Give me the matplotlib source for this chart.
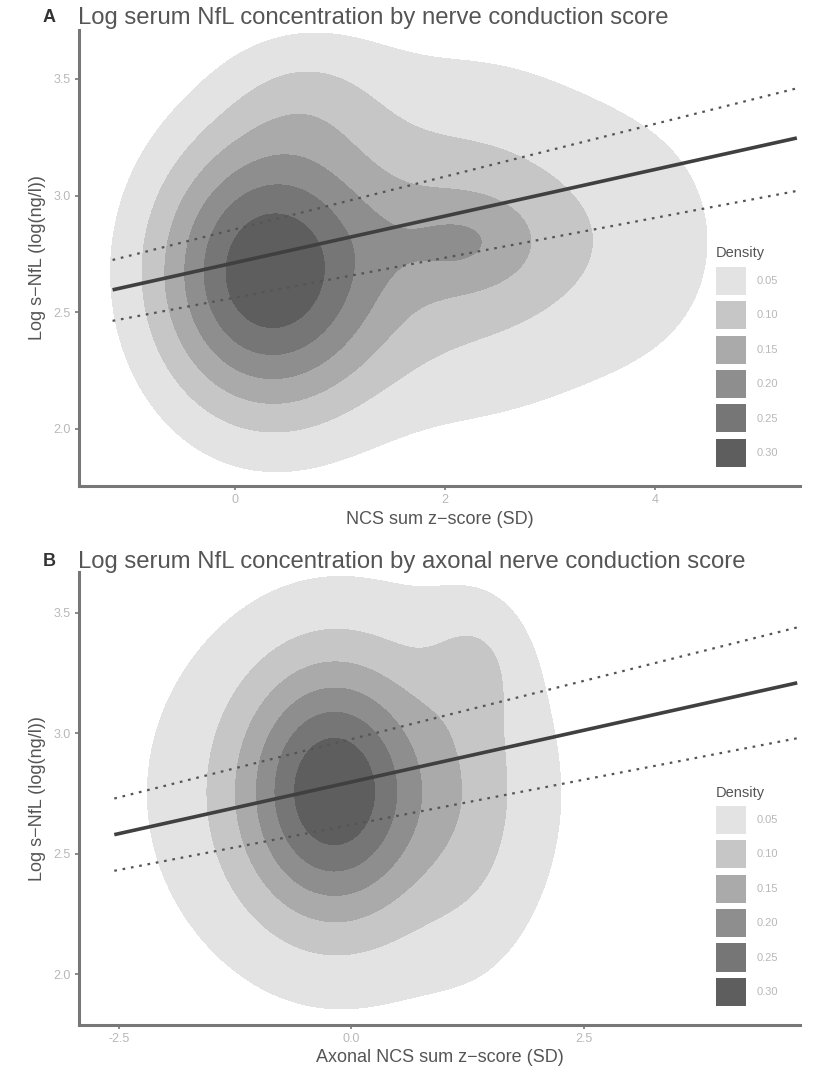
import numpy as np
import matplotlib
matplotlib.use("Agg")
import matplotlib.pyplot as plt
from matplotlib.patches import Patch

plt.rcParams['font.family'] = ['Liberation Sans', 'DejaVu Sans']

# ---------------- data ----------------
density_levels = [0.05, 0.10, 0.15, 0.20, 0.25, 0.30]
density_labels = ["0.05", "0.10", "0.15", "0.20", "0.25", "0.30"]
fill_colors = ["#e3e3e3", "#c6c6c6", "#aaaaaa", "#8e8e8e", "#767676", "#5e5e5e"]

# Panel A density components (centre x, centre y, sd x, sd y, peak)
a_cx = [0.29, 2.20, 2.20, 0.70, 4.00]
a_cy = [2.67, 2.80, 2.82, 3.45, 2.80]
a_sx = [0.76, 0.50, 1.00, 0.55, 0.80]
a_sy = [0.43, 0.15, 0.55, 0.20, 0.50]
a_pk = [0.33, 0.07, 0.12, 0.048, 0.05]

# Panel A regression fit and 95% CI (x ends)
a_fit_x = [-1.17, 5.35]
a_fit = [2.596, 3.247]
a_upper = [2.724, 3.46]
a_lower = [2.463, 3.02]

# Panel B density components
b_cx = [-0.20, 0.00, 1.35, 1.30]
b_cy = [2.76, 2.75, 3.30, 2.75]
b_sx = [0.65, 1.70, 0.35, 0.45]
b_sy = [0.35, 0.64, 0.18, 0.45]
b_pk = [0.24, 0.11, 0.04, 0.04]

b_fit_x = [-2.55, 4.80]
b_fit = [2.58, 3.21]
b_upper = [2.73, 3.44]
b_lower = [2.43, 2.98]

a_xticks = [0, 2, 4]
a_xticklabels = ["0", "2", "4"]
b_xticks = [-2.5, 0.0, 2.5]
b_xticklabels = ["-2.5", "0.0", "2.5"]
yticks = [2.0, 2.5, 3.0, 3.5]
yticklabels = ["2.0", "2.5", "3.0", "3.5"]


def density(X, Y, cx, cy, sx, sy, pk):
    Z = np.zeros_like(X)
    for i in range(len(cx)):
        Z += pk[i] * np.exp(-0.5 * ((X - cx[i]) / sx[i]) ** 2 - 0.5 * ((Y - cy[i]) / sy[i]) ** 2)
    return Z


W, H = 817, 1070
fig = plt.figure(figsize=(W / 100, H / 100), dpi=100)

TXT = "#555555"
TICKC = "#b8b8b8"
SPINE = "#777777"


def panel(rect, xlim, ylim, comps, fx, fit, up, lo, xticks, xtl, xlabel, letter, title, title_y):
    ax = fig.add_axes(rect)
    xs = np.linspace(xlim[0], xlim[1], 500)
    ys = np.linspace(ylim[0], ylim[1], 500)
    X, Y = np.meshgrid(xs, ys)
    Z = density(X, Y, *comps)
    ax.contourf(X, Y, Z, levels=density_levels + [10], colors=fill_colors)
    ax.plot(fx, fit, color="#404040", lw=2.6, solid_capstyle="butt")
    ax.plot(fx, up, color="#555555", lw=1.6, ls=(0, (1.2, 2.6)))
    ax.plot(fx, lo, color="#555555", lw=1.6, ls=(0, (1.2, 2.6)))
    ax.set_xlim(xlim)
    ax.set_ylim(ylim)
    ax.set_xticks(xticks)
    ax.set_xticklabels(xtl)
    ax.set_yticks(yticks)
    ax.set_yticklabels(yticklabels)
    for s in ["top", "right"]:
        ax.spines[s].set_visible(False)
    for s in ["left", "bottom"]:
        ax.spines[s].set_color(SPINE)
        ax.spines[s].set_linewidth(2.2)
    ax.tick_params(colors=SPINE, labelcolor=TICKC, labelsize=9, length=3, width=1.2, pad=3)
    ax.set_xlabel(xlabel, color=TXT, fontsize=13, labelpad=3)
    ax.set_ylabel("Log s\u2212NfL (log(ng/l))", color=TXT, fontsize=13, labelpad=5)
    fig.text(43 / W, 1 - title_y / H, letter, fontsize=13, fontweight="bold", color="#333333", va="center")
    fig.text(78 / W, 1 - title_y / H, title, fontsize=17.2, color=TXT, va="center")
    handles = [Patch(facecolor=c, edgecolor="none") for c in fill_colors]
    leg = ax.legend(handles, density_labels, loc="lower right", bbox_to_anchor=(0.984, 0.02),
                    frameon=False, title="Density", fontsize=8, title_fontsize=10.5,
                    handlelength=2.7, handleheight=3.51, labelspacing=0.57, handletextpad=1.0,
                    alignment="left")
    for t in leg.get_texts():
        t.set_color(TICKC)
    leg.get_title().set_color(TXT)
    return ax


panel([79 / W, 1 - 486 / H, 721 / W, 456 / H], (-1.49, 5.38), (1.755, 3.71),
      (a_cx, a_cy, a_sx, a_sy, a_pk), a_fit_x, a_fit, a_upper, a_lower,
      a_xticks, a_xticklabels, "NCS sum z\u2212score (SD)", "A",
      "Log serum NfL concentration by nerve conduction score", 18)

panel([79 / W, 1 - 1025 / H, 721 / W, 453 / H], (-2.93, 4.83), (1.79, 3.67),
      (b_cx, b_cy, b_sx, b_sy, b_pk), b_fit_x, b_fit, b_upper, b_lower,
      b_xticks, b_xticklabels, "Axonal NCS sum z\u2212score (SD)", "B",
      "Log serum NfL concentration by axonal nerve conduction score", 562)

fig.savefig("out.png", dpi=100)
